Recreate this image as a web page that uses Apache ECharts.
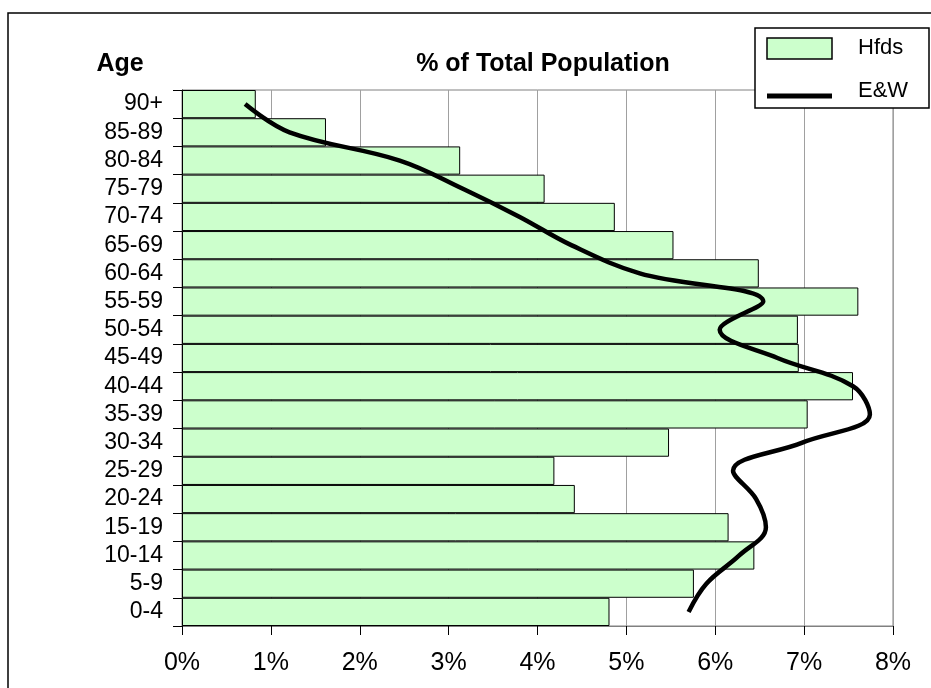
<!DOCTYPE html>
<html><head><meta charset="utf-8">
<script src="https://cdn.jsdelivr.net/npm/echarts@6/dist/echarts.min.js"></script>
<style>html,body{margin:0;padding:0;background:#fff}#c{width:931px;height:688px}</style>
</head><body><div id="c"></div>
<script>
var categories = ['0-4','5-9','10-14','15-19','20-24','25-29','30-34','35-39','40-44','45-49','50-54','55-59','60-64','65-69','70-74','75-79','80-84','85-89','90+'];
var hfds = [4.81,5.76,6.44,6.15,4.42,4.19,5.48,7.04,7.55,6.94,6.93,7.61,6.49,5.53,4.87,4.08,3.13,1.62,0.83];
var ew = [5.70,5.90,6.27,6.57,6.46,6.20,6.98,7.74,7.55,6.70,6.05,6.54,5.15,4.38,3.80,3.16,2.45,1.21,0.71];
var xTicks = [0,1,2,3,4,5,6,7,8];
var seriesNames = ['Hfds','E&W'];
var FONT = 'Liberation Sans, Arial, sans-serif';
var chart = echarts.init(document.getElementById('c'), null, {renderer:'canvas'});
chart.setOption({
  animation:false,
  backgroundColor:'#fff',
  title:[
    {text:'% of Total Population', left:538, top:47, textAlign:'center', textStyle:{fontFamily:FONT,fontSize:25,fontWeight:'bold',color:'#000'}},
    {text:'Age', left:115, top:47, textAlign:'center', textStyle:{fontFamily:FONT,fontSize:25,fontWeight:'bold',color:'#000'}}
  ],
  graphic:[
    {type:'rect', z:0, shape:{x:8,y:13,width:940,height:700}, style:{fill:'none',stroke:'#000',lineWidth:1.5}},
    {type:'rect', z:100, shape:{x:755,y:28,width:174,height:80}, style:{fill:'#fff',stroke:'#000',lineWidth:1.5}},
    {type:'rect', z:101, shape:{x:767,y:38,width:65,height:21}, style:{fill:'#ccffcc',stroke:'#000',lineWidth:1.5}},
    {type:'line', z:101, shape:{x1:767,y1:96,x2:832,y2:96}, style:{stroke:'#000',lineWidth:5}},
    {type:'text', z:101, x:858, y:48, style:{text:seriesNames[0], font:'22px Liberation Sans, Arial, sans-serif', fill:'#000', textVerticalAlign:'middle'}},
    {type:'text', z:101, x:858, y:91, style:{text:seriesNames[1], font:'22px Liberation Sans, Arial, sans-serif', fill:'#000', textVerticalAlign:'middle'}}
  ],
  grid:{left:182, right:38, top:90, bottom:62, show:true, borderColor:'#808080', borderWidth:1},
  xAxis:{
    type:'value', min:0, max:8, interval:1,
    axisLine:{show:true, lineStyle:{color:'#808080',width:1}},
    axisTick:{show:true, length:9, lineStyle:{color:'#000'}},
    splitLine:{show:true, lineStyle:{color:'#a0a0a0',width:1}},
    axisLabel:{margin:25, fontFamily:FONT, fontSize:25, color:'#000', formatter:function(v){return xTicks.indexOf(v)>=0? v+'%':'';}}
  },
  yAxis:{
    type:'category', data:categories, boundaryGap:true,
    axisLine:{show:true, lineStyle:{color:'#000',width:1}},
    axisTick:{show:true, inside:false, length:9, interval:0, lineStyle:{color:'#000'}},
    axisLabel:{interval:0, margin:19, fontFamily:FONT, fontSize:23, color:'#000'},
    splitLine:{show:false}
  },
  series:[
    {name:seriesNames[0], type:'bar', data:hfds, barCategoryGap:'0%', itemStyle:{color:'#ccffcc', borderColor:'#000', borderWidth:1}},
    {name:seriesNames[1], type:'line', data:ew, smooth:0.38, symbol:'none', showSymbol:false, z:5, lineStyle:{color:'#000', width:4.5}, itemStyle:{color:'#000'}}
  ]
});
</script></body></html>
